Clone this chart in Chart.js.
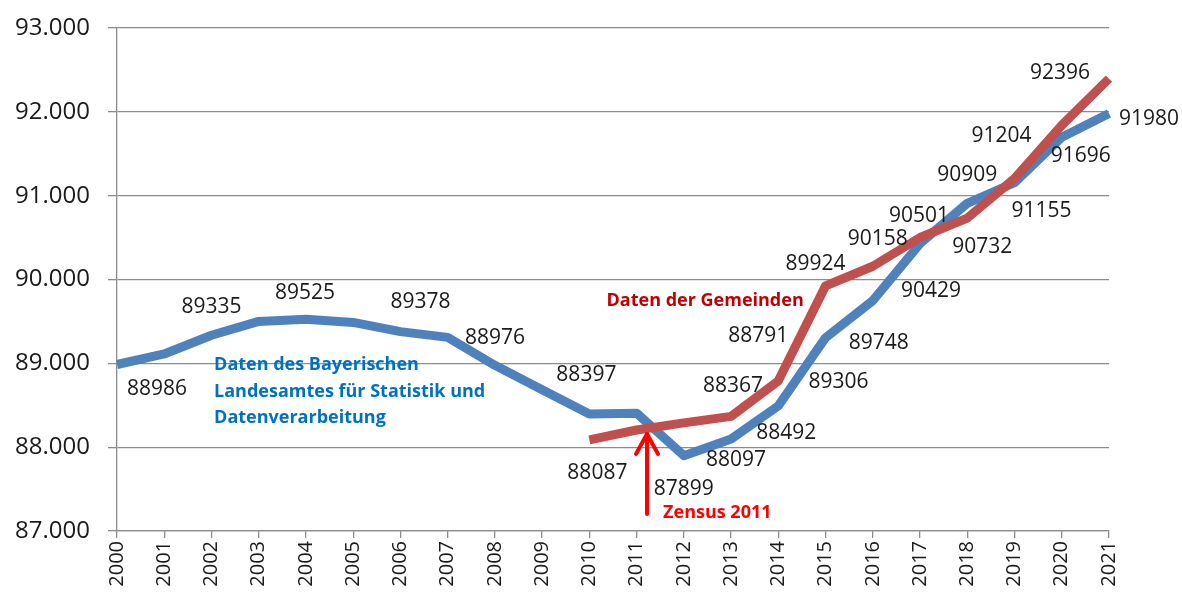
<!DOCTYPE html>
<html>
<head>
<meta charset="utf-8">
<script src="https://cdn.jsdelivr.net/npm/chart.js@4.4.1/dist/chart.umd.min.js"></script>
<style>
html,body{margin:0;padding:0;background:#fff;}
#wrap{width:1182px;height:592px;position:relative;}
</style>
</head>
<body>
<div id="wrap"><canvas id="c" width="1182" height="592"></canvas></div>
<script>
// ---- data ----
const years = ['2000','2001','2002','2003','2004','2005','2006','2007','2008','2009','2010',
               '2011','2012','2013','2014','2015','2016','2017','2018','2019','2020','2021'];
const landesamt = [88986, 89112, 89335, 89500, 89525, 89488, 89378, 89310, 88976, 88685, 88397,
                   88405, 87899, 88097, 88492, 89306, 89748, 90429, 90909, 91155, 91696, 91980];
const gemeinden = [null, null, null, null, null, null, null, null, null, null, 88087,
                   88205, 88290, 88367, 88791, 89924, 90158, 90501, 90732, 91204, 91840, 92396];
// which points carry a value label
const landesamtLabeled = [true,false,true,false,true,false,true,false,true,false,true,
                          false,true,true,true,true,true,true,true,true,true,true];
const gemeindenLabeled = [false,false,false,false,false,false,false,false,false,false,true,
                          false,false,true,true,true,true,true,true,true,false,true];
const yTicks = [87000, 88000, 89000, 90000, 91000, 92000, 93000];

// ---- layout of labels (pixel offsets from each point) ----
const landesamtOffsets = {0:[40,25],2:[0,-28],4:[-1,-26],6:[20,-30],8:[0,-27],10:[-3,-39],
  12:[0,33],13:[5,21],14:[8,27],15:[13,44],16:[6,42],17:[11,47],18:[0,-28],19:[27,28],20:[19,19],21:[40,6]};
const gemeindenOffsets = {10:[8,33],13:[2,-30],14:[-20,-45],15:[-10,-22],16:[5,-27],17:[-1,-21],
  18:[15,29],19:[-13,-43],21:[-49,-6]};

const BLUE = '#4F81BD', RED = '#C0504D';
const GRID = '#8c8c8c';
const TEXT = '#1a1a1a';

function fmtDE(v){ return String(v).replace(/\B(?=(\d{3})+(?!\d))/g, '.'); }

const overlay = {
  id: 'overlay',
  afterDatasetsDraw(chart){
    const ctx = chart.ctx;
    const xs = chart.scales.x, ys = chart.scales.y;
    ctx.save();
    // value labels
    ctx.font = '21px "Open Sans"';
    ctx.fillStyle = TEXT;
    ctx.textAlign = 'center';
    ctx.textBaseline = 'middle';
    const drawLabels = (vals, flags, offs) => {
      vals.forEach((v, i) => {
        if (v == null || !flags[i]) return;
        const o = offs[i] || [0, -25];
        ctx.fillText(String(v), xs.getPixelForValue(i) + o[0], ys.getPixelForValue(v) + o[1]);
      });
    };
    drawLabels(landesamt, landesamtLabeled, landesamtOffsets);
    drawLabels(gemeinden, gemeindenLabeled, gemeindenOffsets);

    // blue annotation
    ctx.font = 'bold 18px "Open Sans"';
    ctx.fillStyle = '#0070C0';
    ctx.textAlign = 'left';
    const bx = xs.getPixelForValue(2.055), by = ys.getPixelForValue(88980);
    ['Daten des Bayerischen', 'Landesamtes für Statistik und', 'Datenverarbeitung']
      .forEach((t, k) => ctx.fillText(t, bx, by + k * 26.5));

    // red annotation
    ctx.fillStyle = '#C00000';
    ctx.textAlign = 'center';
    ctx.fillText('Daten der Gemeinden', xs.getPixelForValue(12.45), ys.getPixelForValue(89747));

    // Zensus arrow
    const ax = xs.getPixelForValue(11.22);
    const aTop = ys.getPixelForValue(88181), aBot = ys.getPixelForValue(87203);
    ctx.strokeStyle = '#FF0000';
    ctx.lineWidth = 4;
    ctx.lineCap = 'round';
    ctx.lineJoin = 'round';
    ctx.beginPath();
    ctx.moveTo(ax, aBot); ctx.lineTo(ax, aTop + 2);
    ctx.stroke();
    ctx.beginPath();
    ctx.moveTo(ax - 11, aTop + 22); ctx.lineTo(ax, aTop + 2); ctx.lineTo(ax + 11, aTop + 22);
    ctx.stroke();
    ctx.fillStyle = '#FF0000';
    ctx.textAlign = 'left';
    ctx.fillText('Zensus 2011', xs.getPixelForValue(11.56), ys.getPixelForValue(87215));
    ctx.restore();
  }
};

new Chart(document.getElementById('c'), {
  type: 'line',
  data: {
    labels: years,
    datasets: [
      { label: 'Landesamt', data: landesamt, borderColor: BLUE, borderWidth: 9,
        pointRadius: 0, tension: 0, borderJoinStyle: 'round', borderCapStyle: 'butt', order: 2 },
      { label: 'Gemeinden', data: gemeinden, borderColor: RED, borderWidth: 9,
        pointRadius: 0, tension: 0, borderJoinStyle: 'round', borderCapStyle: 'butt', order: 1 }
    ]
  },
  options: {
    responsive: false,
    animation: false,
    events: [],
    layout: { padding: { top: 28, right: 73, left: 0, bottom: 0 } },
    plugins: { legend: { display: false }, tooltip: { enabled: false } },
    scales: {
      x: {
        offset: false,
        grid: { drawOnChartArea: false, drawTicks: true, tickLength: 7, color: GRID, lineWidth: 1.3 },
        border: { display: true, color: GRID, width: 1.3 },
        ticks: { minRotation: 90, maxRotation: 90, autoSkip: false, padding: 3,
                 color: TEXT, font: { family: 'Open Sans', size: 20 } },
        afterFit(s){ s.height = 61; s.paddingLeft = 0; s.paddingRight = 0; }
      },
      y: {
        min: 87000, max: 93000,
        afterBuildTicks(s){ s.ticks = yTicks.map(v => ({ value: v })); },
        grid: { color: GRID, lineWidth: 1.3, tickLength: 9, drawTicks: true },
        border: { display: true, color: GRID, width: 1.3 },
        ticks: { padding: 18, color: TEXT, font: { family: 'Open Sans', size: 24 },
                 callback: v => fmtDE(v) },
        afterFit(s){ s.width = 117; s.paddingTop = 0; s.paddingBottom = 0; }
      }
    }
  },
  plugins: [overlay]
});
</script>
</body>
</html>
